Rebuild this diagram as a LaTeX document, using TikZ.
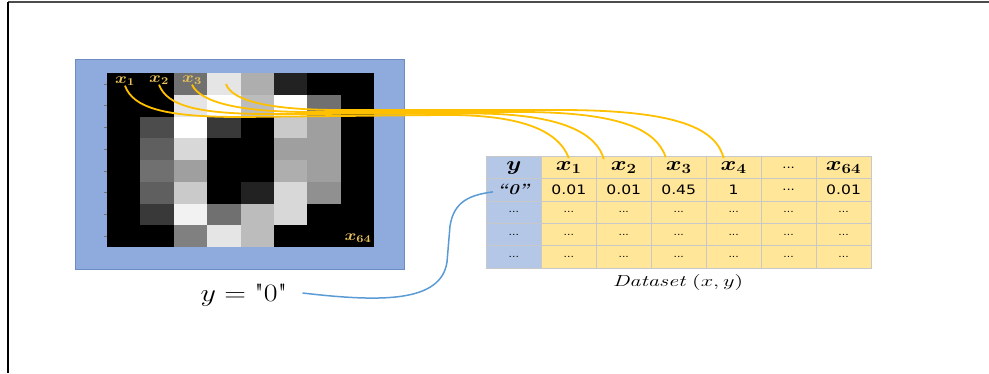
\RequirePackage{fix-cm}
\documentclass[tikz,border=0pt]{standalone}
\usepackage{fontspec}
\usepackage{amsmath}
\usepackage{graphicx}
\usetikzlibrary{calc}
\newfontfamily\cellfont{DejaVu Sans}

\definecolor{frameblue}{HTML}{8FAADC}
\definecolor{frameedge}{HTML}{6D8CC4}
\definecolor{ycol}{HTML}{B4C7E7}
\definecolor{xcol}{HTML}{FFE699}
\definecolor{cellrule}{HTML}{C8C8C8}
\definecolor{gold}{HTML}{FFC000}
\definecolor{labgold}{HTML}{E9C25A}
\definecolor{link}{HTML}{5B9BD5}

% slightly widened lettering
\newcommand{\stx}[1]{\scalebox{1.2}[1]{#1}}
\newcommand{\fs}[1]{\fontsize{#1}{#1}\selectfont}
\newcommand{\dd}{...}

\tikzset{
  cellbox/.style={draw=cellrule, line width=0.8pt, minimum width=54.95pt,
    minimum height=22.3pt, inner sep=0pt, anchor=north west, fill=xcol},
  ycell/.style={cellbox, fill=ycol},
  pixlabel/.style={text=labgold, inner sep=0pt, font=\fs{15}},
  feature/.style={draw=gold, line width=1.8pt},
  target/.style={draw=link, line width=1.5pt},
}

\begin{document}
\begin{tikzpicture}[x=1pt, y=-1pt]
\useasboundingbox (0,0) rectangle (989,373);

% page rules
\draw[line width=1.4pt, black!70] (989,2) -- (8,2);
\draw[line width=1.4pt, black] (8,2) -- (8,373);

% blue frame around the 8x8 image
\fill[frameblue, draw=frameedge, line width=0.8pt] (75,59) rectangle (404,269);

% pixel grid (digit "0", intensities 0..15, gamma-lightened)
\def\pixrows{{0,0,5,13,9,1,0,0},{0,0,13,15,10,15,5,0},{0,3,15,2,0,11,8,0},{0,4,12,0,0,8,8,0},{0,5,8,0,0,9,8,0},{0,4,11,0,1,12,7,0},{0,2,14,5,10,12,0,0},{0,0,6,13,10,0,0,0}}
\foreach \r [count=\ri from 0] in \pixrows {
  \foreach \v [count=\ci from 0] in \r {
    \pgfmathsetmacro{\blk}{\v>0 ? 100-100*(\v/15)^0.75 : 100}
    \fill[black!\blk] ({107+\ci*33.375},{73+\ri*21.75}) rectangle ({107+(\ci+1)*33.375+0.3},{73+(\ri+1)*21.75+0.3});
  }
  \draw[black!55, line width=0.6pt] (104,{73+(\ri+0.5)*21.75}) -- (107,{73+(\ri+0.5)*21.75});
}

% pixel labels
\node[pixlabel] (lx1) at (125,81) {\stx{$\boldsymbol{x_1}$}};
\node[pixlabel] (lx2) at (159,80) {\stx{$\boldsymbol{x_2}$}};
\node[pixlabel] (lx3) at (192,80) {\stx{$\boldsymbol{x_3}$}};
\node[pixlabel] (lx64) at (358,238) {\stx{$\boldsymbol{x_{64}}$}};
\coordinate (px4) at (226,84);

% dataset table
\foreach \c/\t in {1/{$\boldsymbol{x_1}$},2/{$\boldsymbol{x_2}$},3/{$\boldsymbol{x_3}$},4/{$\boldsymbol{x_4}$},6/{$\boldsymbol{x_{64}}$}}
  \node[cellbox, font=\fs{20}] (h\c) at ({486+\c*54.95},156) {\stx{\t}};
\node[cellbox, font=\cellfont\fs{11}] (h5) at ({486+5*54.95},156) {\stx{\dd}};
\node[ycell, font=\fs{20}] (h0) at (486,156) {\stx{$\boldsymbol{y}$}};

\node[ycell, font=\fs{15}] (r1c0) at (486,178.3) {\stx{\textbf{\textit{“0”}}}};
\foreach \c/\t in {1/0.01,2/0.01,3/0.45,4/1,6/0.01}
  \node[cellbox, font=\cellfont\fs{13}] (r1c\c) at ({486+\c*54.95},178.3) {\stx{\t}};
\node[cellbox, font=\cellfont\fs{11}] (r1c5) at ({486+5*54.95},178.3) {\stx{\dd}};

\foreach \r in {2,3,4} {
  \node[ycell, font=\cellfont\fs{9}] (r\r c0) at (486,{156+\r*22.3}) {\stx{\dd}};
  \foreach \c in {1,2,3,4,5,6}
    \node[cellbox, font=\cellfont\fs{9}] (r\r c\c) at ({486+\c*54.95},{156+\r*22.3}) {\stx{\dd}};
}

\node[font=\fs{16}] (cap) at (678,282) {\scalebox{1.4}[1]{$\mathit{Dataset}\ (x,y)$}};

% label of the image
\node[font=\fs{25}, inner sep=0pt] (ylab) at (244,295) {\stx{$y = \text{\textquotedbl 0\textquotedbl}$}};

% pixels -> feature columns
\draw[feature] (lx1.south) .. controls (133,108) and (165,117) .. (240,117)
  -- (440,115) .. controls (520,114) and (558,130) .. ($(h1.north)+(0,2)$);
\draw[feature] (lx2.south) .. controls (167,106) and (198,114) .. (270,114)
  -- (470,113.5) .. controls (565,113) and (597,135) .. ($(h2.north)+(-20,3)$);
\draw[feature] (lx3.south) .. controls (200,102) and (238,112) .. (310,112)
  -- (520,112) .. controls (622,112) and (656,130) .. ($(h3.north)+(-13,1)$);
\draw[feature] (px4) .. controls (232,101) and (270,110) .. (340,110)
  -- (560,110) .. controls (682,110) and (716,130) .. ($(h4.north)+(-10,2)$);

% label -> target column
\draw[target] ($(ylab.east)+(15,-2)$) .. controls (380,302) and (441,303) .. (447,262)
  -- (450,226) .. controls (454,201) and (470,195) .. ($(r1c0.west)+(7,2)$);

\end{tikzpicture}
\end{document}
